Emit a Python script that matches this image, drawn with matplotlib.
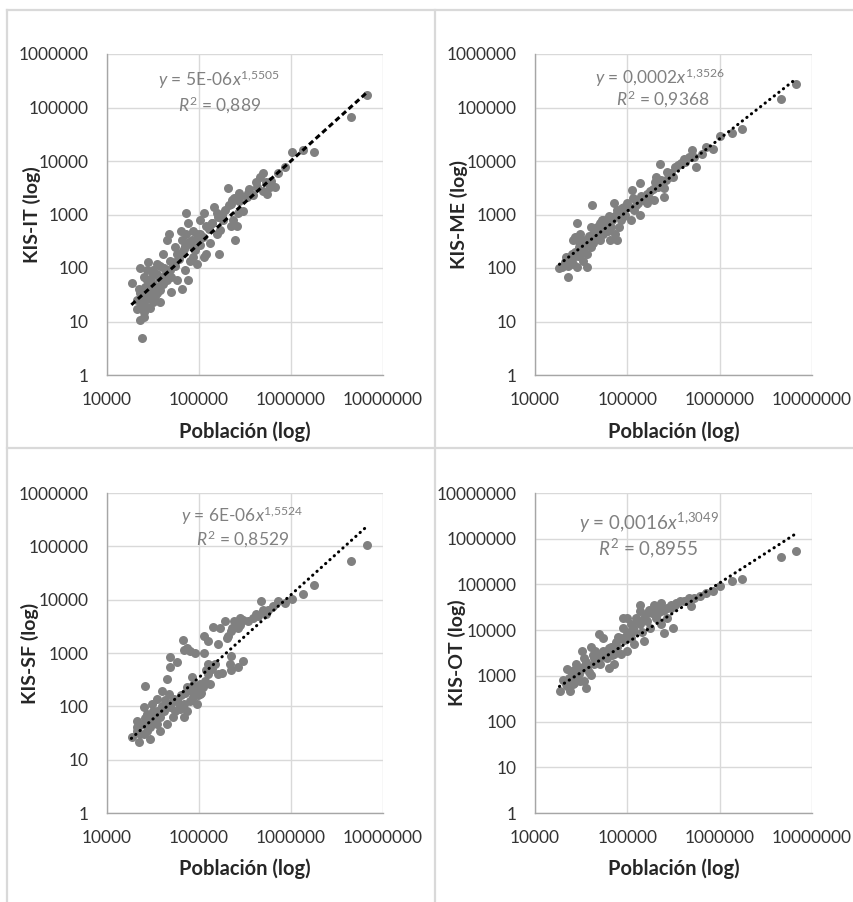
import numpy as np
import matplotlib
matplotlib.use('Agg')
import matplotlib.pyplot as plt
from matplotlib.ticker import FixedLocator, FuncFormatter, NullLocator
from matplotlib.lines import Line2D

plt.rcParams['font.family'] = ['Lato', 'DejaVu Sans']
plt.rcParams['mathtext.fontset'] = 'custom'
plt.rcParams['mathtext.rm'] = 'Lato'
plt.rcParams['mathtext.it'] = 'Lato:italic'
plt.rcParams['mathtext.bf'] = 'Lato:bold'

# ---------------- data ----------------
it_pop = [6700000, 4500000, 1760000, 1350000, 1020000, 850000, 720000, 670000, 500000, 460000,
          500000, 430000, 340000, 270000, 275000, 300000, 230000, 205000, 225000, 260000,
          245000, 220000, 180000, 170000, 145000, 165000, 155000, 127000, 112000, 103000,
          103000, 87000, 94000, 73000, 76000, 73000, 66000, 63000, 55000, 50000,
          66000, 76000, 49000, 47000, 45000, 41000, 50000, 38000, 35000, 32000,
          35000, 32000, 27000, 25000, 24000, 23000, 21000, 18700, 23000, 28000,
          25000, 27000, 29500, 32000, 23000, 29500, 38000, 38000, 21000, 26000,
          45000, 57000, 71000, 80000, 83000, 94000, 120000, 131000, 112000, 91000,
          69000, 57000, 55000, 103000, 87000, 63000, 32000, 27000, 35000, 45000,
          41000, 52000, 158000, 182000, 138000, 265000, 234000, 331000, 389000, 530000,
          589000, 550000,
          22000, 24000, 26000, 28000, 30000, 33000, 36000, 40000, 43000, 30000,
          27000, 24000, 25000, 29000, 33000, 37000, 42000, 48000, 55000, 60000,
          65000, 70000, 78000, 85000, 95000, 110000, 120000, 140000, 160000, 190000,
          210000, 240000, 280000, 350000, 420000, 600000]
it_val = [174000, 66000, 15000, 16000, 15000, 7800, 6000, 3300, 2700, 5000,
          6000, 3300, 2500, 2550, 1750, 1150, 1850, 3100, 1600, 600,
          330, 600, 1000, 520, 1390, 186, 440, 525, 1050, 440,
          266, 163, 120, 1050, 680, 440, 330, 186, 107, 68,
          41, 59, 138, 440, 330, 186, 36, 107, 78, 51,
          34, 23, 18.6, 12, 4.9, 10.5, 17, 52, 100, 130,
          68, 38, 63, 91, 34, 34, 38, 23, 25, 25,
          59, 59, 91, 138, 330, 440, 186, 290, 163, 214,
          230, 186, 245, 780, 500, 500, 78, 91, 120, 91,
          51, 120, 1050, 780, 680, 1050, 780, 2150, 2300, 4100,
          3300, 2450,
          40, 30, 45, 28, 40, 30, 45, 60, 75, 55,
          60, 20, 15, 18, 45, 65, 100, 90, 130, 150,
          200, 260, 300, 250, 350, 380, 600, 700, 900, 1200,
          1500, 2000, 2200, 3000, 4000, 4200]

me_pop = [6700000, 4600000, 1760000, 1350000, 1020000, 850000, 710000, 650000, 560000, 500000,
          465000, 410000, 330000, 316000, 270000, 240000, 225000, 250000, 250000, 213000,
          205000, 178000, 163000, 138000, 138000, 150000, 123000, 113000, 118000, 100000,
          92000, 85000, 78000, 71000, 74000, 66000, 63000, 55000, 65000, 51000,
          47000, 41500, 43000, 40000, 36500, 37000, 33500, 31000, 29800, 28400,
          26000, 25000, 24000, 23000, 21700, 19500, 18200, 26000, 31000, 28400,
          33500, 36500, 43000, 47000, 51000, 55000, 60000, 68000, 81000, 92000,
          110000, 129000, 162000, 195000, 229000, 295000, 380000, 525000, 78000, 27000,
          32000, 40000,
          21000, 23000, 25000, 27000, 29000, 30000, 34000, 38000, 42000, 45000,
          50000, 53000, 58000, 62000, 70000, 75000, 82000, 88000, 95000, 105000,
          115000, 125000, 140000, 170000, 190000, 200000, 260000, 280000, 350000, 420000]
me_val = [277000, 143000, 39000, 33000, 29000, 17000, 18000, 13500, 7800, 16300,
          11700, 10800, 7800, 5100, 6300, 4100, 8700, 2150, 3100, 3300,
          5100, 2700, 1630, 3800, 1000, 1860, 1860, 2900, 1200, 1630,
          930, 780, 1200, 1630, 440, 590, 930, 780, 330, 590,
          440, 1500, 290, 590, 186, 105, 330, 440, 245, 680,
          330, 186, 138, 68, 162, 105, 100, 120, 186, 105,
          138, 330, 440, 590, 330, 440, 590, 780, 590, 1400,
          780, 1630, 2450, 1860, 4400, 5900, 9100, 12000, 330, 380,
          245, 245,
          130, 110, 150, 200, 170, 300, 250, 400, 350, 500,
          700, 800, 700, 500, 900, 1000, 1100, 1300, 1000, 1400,
          2000, 1500, 2200, 2000, 3000, 4000, 4500, 5000, 8500, 9500]

sf_pop = [6700000, 4500000, 1760000, 1350000, 1020000, 850000, 720000, 640000, 540000, 475000,
          500000, 440000, 340000, 300000, 265000, 225000, 215000, 240000, 225000, 265000,
          205000, 280000, 190000, 225000, 170000, 150000, 162000, 126000, 143000, 162000,
          126000, 112000, 112000, 91000, 80000, 74000, 68000, 67000, 120000, 115000,
          107000, 131000, 103000, 87000, 83000, 74000, 94000, 80000, 68000, 62000,
          68000, 55000, 52000, 49000, 47000, 57000, 49000, 48000, 45000, 40000,
          35000, 35000, 38000, 45000, 38000, 32000, 29500, 27000, 25000, 26000,
          29500, 23000, 22500, 21000, 18700, 24000, 28000, 32000, 42000, 45000,
          52000, 60000, 74000, 87000, 103000, 35000, 27000, 21000, 31000, 280000,
          389000,
          21000, 23000, 25000, 26000, 28000, 30000, 33000, 36000, 40000, 43000,
          48000, 53000, 58000, 63000, 70000, 78000, 85000, 92000, 98000, 105000,
          110000, 125000, 140000, 180000, 200000, 230000, 250000, 300000, 420000, 560000]
sf_val = [108000, 52000, 19000, 12900, 10400, 8600, 9300, 7600, 5300, 9300,
          6400, 5000, 3900, 720, 540, 470, 620, 3900, 2550, 2950,
          2100, 3400, 3900, 890, 2950, 620, 410, 620, 3100, 1450,
          1650, 2050, 1000, 1000, 1070, 1240, 1150, 1770, 470, 300,
          230, 265, 170, 195, 350, 230, 110, 128, 110, 89,
          62, 83, 128, 96, 170, 670, 830, 540, 325, 195,
          138, 83, 62, 46, 35, 54, 41, 72, 96, 245,
          24, 30, 21, 54, 27, 46, 54, 83, 83, 110,
          62, 110, 83, 148, 265, 46, 35, 41, 110, 4500,
          4500,
          35, 45, 30, 60, 40, 70, 55, 70, 100, 130,
          100, 140, 130, 160, 180, 200, 250, 200, 160, 180,
          230, 400, 500, 420, 1900, 3000, 3500, 4200, 5500, 6500]

ot_pop = [6700000, 4600000, 1760000, 1350000, 1020000, 850000, 710000, 620000, 525000, 490000,
          470000, 410000, 330000, 316000, 295000, 270000, 250000, 229000, 213000, 205000,
          178000, 170000, 150000, 138000, 138000, 123000, 118000, 110000, 100000, 89000,
          85000, 78000, 71000, 66000, 60000, 55000, 49000, 51000, 63000, 45000,
          43500, 40000, 36500, 34000, 31000, 32000, 31000, 28400, 35500, 26000,
          24000, 23000, 22000, 21500, 18600, 27500, 25000, 100000, 138000, 195000,
          229000, 89000, 100000, 118000, 150000, 71000, 51000, 40000, 34000, 26000,
          85000, 55000, 43500, 110000, 229000, 270000, 370000, 162000,
          20000, 22000, 23500, 25000, 26500, 28000, 30000, 33000, 36000, 38000,
          42000, 47000, 53000, 58000, 63000, 68000, 75000, 80000, 93000, 105000,
          115000, 130000, 145000, 160000, 185000, 210000, 250000, 300000, 340000, 450000]
ot_val = [550000, 395000, 132000, 118000, 91000, 71000, 66000, 55000, 51000, 34000,
          51000, 43000, 36000, 11200, 36000, 31000, 8700, 26000, 31000, 18600,
          11200, 27000, 18600, 26000, 13500, 18600, 9500, 13500, 8100, 18600,
          6800, 4200, 3000, 4200, 2500, 6800, 8100, 3000, 1500, 3500,
          1800, 4200, 1500, 2500, 1300, 3500, 780, 910, 550, 660,
          470, 780, 1380, 660, 470, 1780, 1300, 18600, 36000, 36000,
          40000, 11200, 3500, 4900, 5800, 1800, 1800, 1070, 780, 910,
          3000, 3500, 2500, 6800, 13500, 18600, 43000, 16000,
          800, 600, 900, 1100, 700, 1500, 1100, 1600, 2000, 1200,
          2800, 2200, 2700, 3300, 4000, 2800, 5500, 7000, 6000, 9000,
          11000, 16000, 9000, 22000, 24000, 22000, 27000, 30000, 40000, 45000]

# power-law trendlines shown on the chart: y = a * x^b
trend_a = [5e-06, 0.0002, 6e-06, 0.0016]
trend_b = [1.5505, 1.3526, 1.5524, 1.3049]
trend_r2 = ['0,889', '0,9368', '0,8529', '0,8955']
trend_a_txt = ['5E-06', '0,0002', '6E-06', '0,0016']
trend_b_txt = ['1{,}5505', '1{,}3526', '1{,}5524', '1{,}3049']
trend_range = [18400, 6700000]

y_labels = ['KIS-IT (log)', 'KIS-ME (log)', 'KIS-SF (log)', 'KIS-OT (log)']
x_label = 'Población (log)'
x_ticks = [10000, 100000, 1000000, 10000000]
y_max = [1000000, 1000000, 1000000, 10000000]

# ---------------- layout ----------------
W, H = 854, 902
fig = plt.figure(figsize=(W / 100, H / 100), dpi=100)
fig.patch.set_facecolor('white')

def px_axes(left, top, right, bottom):
    return fig.add_axes([left / W, 1 - bottom / H, (right - left) / W, (bottom - top) / H])

rects = [(107, 54, 383, 375), (535, 54, 812, 375), (107, 493, 383, 813), (535, 493, 812, 813)]
eq_pos = [((0.406, 0.919), (0.406, 0.841)),
          ((0.45, 0.925), (0.46, 0.857)),
          ((0.49, 0.928), (0.49, 0.856)),
          ((0.41, 0.906), (0.41, 0.828))]
eq_size = [12.5, 12.5, 12.5, 13.5]
styles = [dict(linestyle=(0, (1.8, 1.1)), lw=2.2),
          dict(linestyle=(0, (0.1, 1.8)), lw=2.2, dash_capstyle='round'),
          dict(linestyle=(0, (0.1, 1.8)), lw=2.2, dash_capstyle='round'),
          dict(linestyle=(0, (0.1, 1.8)), lw=2.2, dash_capstyle='round')]
ylab_x = [-0.272, -0.274, -0.279, -0.282]
xlab_y = [-0.178, -0.178, -0.175, -0.175]

pops = [it_pop, me_pop, sf_pop, ot_pop]
vals = [it_val, me_val, sf_val, ot_val]

fmt = FuncFormatter(lambda v, _: f"{int(round(v))}")

for i in range(4):
    ax = px_axes(*rects[i])
    ax.set_xscale('log')
    ax.set_yscale('log')
    ax.set_xlim(x_ticks[0], x_ticks[-1])
    ax.set_ylim(1, y_max[i])
    yt = [10 ** k for k in range(0, int(round(np.log10(y_max[i]))) + 1)]
    ax.xaxis.set_major_locator(FixedLocator(x_ticks))
    ax.yaxis.set_major_locator(FixedLocator(yt))
    ax.xaxis.set_minor_locator(NullLocator())
    ax.yaxis.set_minor_locator(NullLocator())
    ax.xaxis.set_major_formatter(fmt)
    ax.yaxis.set_major_formatter(fmt)
    ax.tick_params(length=0, labelsize=12.5, labelcolor='#333333')
    ax.tick_params(axis='x', pad=12)
    ax.tick_params(axis='y', pad=13)
    ax.grid(True, color='#d9d9d9', lw=1)
    ax.set_axisbelow(True)
    for s in ['top', 'right']:
        ax.spines[s].set_visible(False)
    for s in ['left', 'bottom']:
        ax.spines[s].set_color('#a6a6a6')
        ax.spines[s].set_linewidth(1)

    ax.scatter(pops[i], vals[i], s=42, color='#808080', linewidths=0, zorder=3, clip_on=False)
    tx = np.array(trend_range, dtype=float)
    ty = trend_a[i] * tx ** trend_b[i]
    ax.plot(tx, ty, color='black', zorder=4, **styles[i])

    (p1, p2) = eq_pos[i]
    ax.text(p1[0], p1[1], rf"$y$ = {trend_a_txt[i]}$x^{{{trend_b_txt[i]}}}$",
            transform=ax.transAxes, ha='center', va='center', color='#808080',
            fontsize=eq_size[i], zorder=5)
    ax.text(p2[0], p2[1], rf"$R^{{2}}$ = {trend_r2[i]}",
            transform=ax.transAxes, ha='center', va='center', color='#808080',
            fontsize=eq_size[i], zorder=5)

    ax.set_ylabel(y_labels[i], fontsize=14, fontweight='bold', color='#262626', va='center')
    ax.yaxis.set_label_coords(ylab_x[i], 0.5)
    ax.set_xlabel(x_label, fontsize=14.5, fontweight='bold', color='#262626', va='center')
    ax.xaxis.set_label_coords(0.5, xlab_y[i])

# panel frame lines
frame_col = '#d9d9d9'
def fline(x0, y0, x1, y1):
    fig.add_artist(Line2D([x0 / W, x1 / W], [1 - y0 / H, 1 - y1 / H],
                          color=frame_col, lw=1.6, transform=fig.transFigure))
fline(7, 10, W, 10)
fline(7, 10, 7, H)
fline(435, 10, 435, H)
fline(7, 448, W, 448)

fig.savefig('out.png', dpi=100, facecolor='white')
